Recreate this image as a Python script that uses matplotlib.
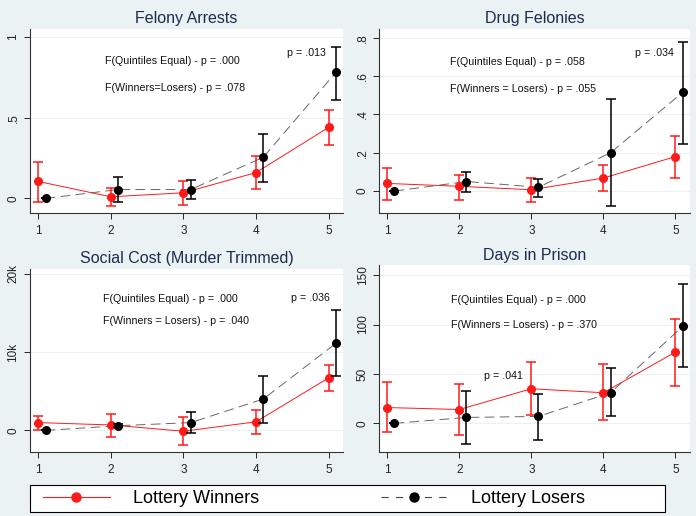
"""Lottery winners vs losers by quintile, four outcome panels."""
import numpy as np
import matplotlib
matplotlib.use("Agg")
import matplotlib.pyplot as plt
from matplotlib.lines import Line2D
from matplotlib.patches import Rectangle

plt.rcParams['font.family'] = ['Liberation Sans', 'DejaVu Sans']

quint = np.array([1, 2, 3, 4, 5])
shift = 0.1

# Felony arrests
fel_win = [0.105, 0.01, 0.035, 0.16, 0.44]
fel_win_hi = [0.225, 0.065, 0.105, 0.26, 0.55]
fel_win_lo = [-0.02, -0.05, -0.04, 0.06, 0.33]
fel_los = [0.0, 0.055, 0.055, 0.255, 0.78]
fel_los_hi = [0.0, 0.13, 0.115, 0.40, 0.94]
fel_los_lo = [0.0, -0.025, -0.005, 0.10, 0.61]

# Drug felonies
drug_win = [0.04, 0.025, 0.007, 0.068, 0.18]
drug_win_hi = [0.12, 0.085, 0.07, 0.135, 0.29]
drug_win_lo = [-0.045, -0.045, -0.055, 0.0, 0.07]
drug_los = [0.0, 0.05, 0.02, 0.20, 0.515]
drug_los_hi = [0.0, 0.10, 0.065, 0.48, 0.78]
drug_los_lo = [0.0, -0.005, -0.03, -0.08, 0.245]

# Social cost (murder trimmed)
cost_win = [1000, 700, -100, 1100, 6700]
cost_win_hi = [1900, 2100, 1700, 2600, 8300]
cost_win_lo = [50, -800, -1800, -400, 5000]
cost_los = [0, 600, 1000, 4000, 11100]
cost_los_hi = [0, 800, 2300, 7000, 15300]
cost_los_lo = [0, 400, -300, 1000, 6900]

# Days in prison
days_win = [16, 14, 35, 31, 72]
days_win_hi = [42, 40, 62, 60, 106]
days_win_lo = [-9, -12, 8, 3, 38]
days_los = [0, 6, 7, 31, 98]
days_los_hi = [0, 33, 30, 56, 141]
days_los_lo = [0, -21, -17, 7, 57]

panels = [
    dict(title='Felony Arrests', win=fel_win, whi=fel_win_hi, wlo=fel_win_lo,
         los=fel_los, lhi=fel_los_hi, llo=fel_los_lo,
         yt=[0, 0.5, 1], ytl=['0', '.5', '1'], ylim=(-0.091, 1.05),
         txt=[(1.92, 0.85, 'F(Quintiles Equal) - p = .000'),
              (1.92, 0.685, 'F(Winners=Losers) - p = .078'),
              (4.42, 0.90, 'p = .013')],
         pos=[0.043, 0.587, 0.450, 0.357]),
    dict(title='Drug Felonies', win=drug_win, whi=drug_win_hi, wlo=drug_win_lo,
         los=drug_los, lhi=drug_los_hi, llo=drug_los_lo,
         yt=[0, 0.2, 0.4, 0.6, 0.8], ytl=['0', '.2', '.4', '.6', '.8'], ylim=(-0.115, 0.847),
         txt=[(1.87, 0.675, 'F(Quintiles Equal) - p = .058'),
              (1.87, 0.533, 'F(Winners = Losers) - p = .055'),
              (4.44, 0.722, 'p = .034')],
         pos=[0.5445, 0.587, 0.4465, 0.357]),
    dict(title='Social Cost (Murder Trimmed)', win=cost_win, whi=cost_win_hi, wlo=cost_win_lo,
         los=cost_los, lhi=cost_los_hi, llo=cost_los_lo,
         yt=[0, 10000, 20000], ytl=['0', '10k', '20k'], ylim=(-2750, 20600),
         txt=[(1.89, 16700, 'F(Quintiles Equal) - p = .000'),
              (1.89, 13900, 'F(Winners = Losers) - p = .040'),
              (4.48, 16900, 'p = .036')],
         pos=[0.043, 0.124, 0.450, 0.355]),
    dict(title='Days in Prison', win=days_win, whi=days_win_hi, wlo=days_win_lo,
         los=days_los, lhi=days_los_hi, llo=days_los_lo,
         yt=[0, 50, 100, 150], ytl=['0', '50', '100', '150'], ylim=(-29, 160),
         txt=[(1.88, 124.5, 'F(Quintiles Equal) - p = .000'),
              (1.88, 100, 'F(Winners = Losers) - p = .370'),
              (2.34, 48, 'p = .041')],
         pos=[0.5445, 0.124, 0.4465, 0.362]),
]

bg = '#EAF2F3'
navy = '#1c2b50'
red = '#ff1a1a'

fig = plt.figure(figsize=(6.96, 5.16), dpi=100, facecolor=bg)

for p in panels:
    ax = fig.add_axes(p['pos'])
    ax.set_facecolor('white')
    win = np.array(p['win'])
    los = np.array(p['los'])
    ax.plot(quint, win, color=red, lw=0.7, zorder=2)
    ax.errorbar(quint, win,
                yerr=[win - np.array(p['wlo']), np.array(p['whi']) - win],
                fmt='o', color=red, ms=5.5, elinewidth=1.1, capsize=3.5,
                capthick=1.1, zorder=3)
    ax.plot(quint + shift, los, color='#666666', lw=0.7, dashes=(10, 5.5), zorder=2)
    ax.errorbar(quint + shift, los,
                yerr=[los - np.array(p['llo']), np.array(p['lhi']) - los],
                fmt='o', color='black', ms=5.5, elinewidth=1.1, capsize=3.5,
                capthick=1.1, zorder=4)
    ax.set_xlim(0.885, 5.2)
    ax.set_ylim(*p['ylim'])
    ax.set_xticks(quint)
    ax.set_yticks(p['yt'])
    ax.set_yticklabels(p['ytl'], rotation=90, va='center')
    ax.tick_params(labelsize=8.5, colors='#222222', length=4, width=0.7)
    ax.tick_params(axis='x', pad=4.5)
    ax.grid(axis='y', color=bg, lw=0.9)
    ax.set_axisbelow(True)
    for s in ['top', 'right']:
        ax.spines[s].set_visible(False)
    for s in ['left', 'bottom']:
        ax.spines[s].set_color('#333333')
        ax.spines[s].set_linewidth(0.8)
    ax.set_title(p['title'], color=navy, fontsize=11.5, pad=4)
    for x, y, t in p['txt']:
        ax.text(x, y, t, fontsize=7.7, color='#111111', va='center')

# legend box
fig.patches.append(Rectangle((30 / 696, 4 / 516), 635 / 696, 27 / 516,
                             transform=fig.transFigure, fc='white', ec='black',
                             lw=0.8, zorder=0))
handles = [Line2D([], [], color=red, lw=0.8, marker='o', ms=6.5),
           Line2D([], [], color='#444444', lw=0.8, dashes=(6.5, 6.5), marker='o',
                  ms=6.5, markerfacecolor='black', markeredgecolor='black')]
leg = fig.legend(handles, ['Lottery Winners', 'Lottery Losers'], loc='center left',
                 bbox_to_anchor=(43 / 696, 17.5 / 516), ncol=2, fontsize=13,
                 handlelength=3.7, handletextpad=1.28, columnspacing=6.75,
                 frameon=False, borderpad=0, borderaxespad=0)

plt.savefig('out.png', dpi=100, facecolor=bg)
